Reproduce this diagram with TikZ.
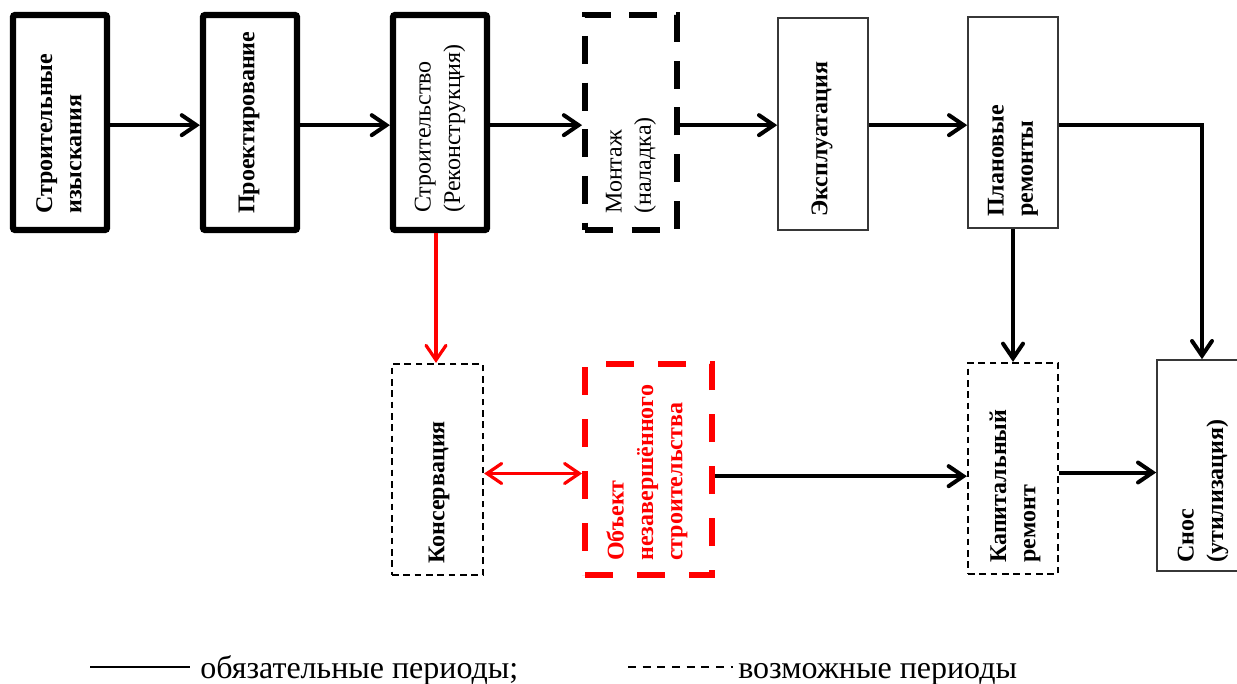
\documentclass[tikz,border=0pt]{standalone}
\usepackage{fontspec}
\setmainfont{Liberation Serif}
\usetikzlibrary{arrows.meta,fit}
\definecolor{myred}{RGB}{255,0,0}
\definecolor{thin}{RGB}{55,55,55}
\begin{document}
\begin{tikzpicture}[x=0.75pt,y=-0.75pt,
  thickbox/.style={draw=black,line width=4.6pt,rounded corners=1.5pt,inner sep=0pt},
  thickdash/.style={draw=black,line width=4.4pt,dash pattern=on 21pt off 14pt,inner sep=0pt},
  thinbox/.style={draw=thin,line width=1.2pt,inner sep=0pt},
  thindash/.style={draw=black,line width=1.7pt,dash pattern=on 5pt off 3.5pt,inner sep=0pt},
  reddash/.style={draw=myred,line width=4.4pt,dash pattern=on 21pt off 18pt,inner sep=0pt},
  lbl/.style={rotate=90,anchor=west,align=left,inner sep=0pt,font=\fontsize{18}{22}\selectfont\bfseries},
  lblr/.style={lbl,font=\fontsize{18}{22}\selectfont},
  barb/.tip={Straight Barb[length=11pt,width=15pt,line cap=round]},
  arr/.style={line width=3pt,-barb},
  rarr/.style={draw=myred,line width=2.4pt,-barb},
  rdarr/.style={draw=myred,line width=2.4pt,barb-barb},
  legtext/.style={anchor=base west,inner sep=0pt,font=\fontsize{24}{28}\selectfont}
]
\clip (0,0) rectangle (1237,684);
\fill[white] (0,0) rectangle (1237,684);

% top row
\node[thickbox,fit={(13,15)(107,230)}] (izy) {};
\node[thickbox,fit={(203,15)(297,230)}] (pro) {};
\node[thickbox,fit={(393,15)(487,230)}] (str) {};
\node[thickdash,fit={(585,15)(677,230)}] (mon) {};
\node[thinbox,fit={(778,18)(868,230)}] (eks) {};
\node[thinbox,fit={(968,17)(1058,228)}] (pla) {};

% bottom row
\node[thindash,fit={(392,364)(483,575)}] (kon) {};
\node[reddash,fit={(585,364)(712,575)}] (obj) {};
\node[thindash,fit={(968,363)(1058,574)}] (kap) {};
\node[thinbox,fit={(1157,360)(1247,571)}] (sno) {};

% labels
\node[lbl] (t1) at (59,214) {Строительные\\изыскания};
\node[lbl] (t2) at (249,214) {Проектирование};
\node[lblr] (t3) at (440,213) {Строительство\\(Реконструкция)};
\node[lblr] (t4) at (631,214) {Монтаж\\(наладка)};
\node[lbl] (t5) at (822,217) {Эксплуатация};
\node[lbl] (t6) at (1013,217) {Плановые\\ремонты};
\node[lbl] (t7) at (439,564) {Консервация};
\node[lbl,text=myred] (t8) at (647,561) {Объект\\незавершённого\\строительства};
\node[lbl] (t9) at (1015,563) {Капитальный\\ремонт};
\node[lbl] (t10) at (1203,563) {Снос\\(утилизация)};

% connectors
\draw[arr] ([yshift=-2pt]izy.east) -- ([yshift=-2pt]izy.east -| pro.west);
\draw[arr] ([yshift=-2pt]pro.east) -- ([yshift=-2pt]pro.east -| str.west);
\draw[arr] ([yshift=-2pt]str.east) -- ([yshift=-2pt]str.east -| mon.west);
\draw[arr] ([yshift=-2pt]mon.east) -- ([yshift=-2pt]mon.east -| eks.west);
\draw[arr] ([yshift=-2pt]eks.east |- izy.east) -- ([yshift=-2pt]izy.east -| pla.west);
\draw[arr] ([yshift=-2pt]pla.east |- izy.east) -| (sno.north);
\draw[arr] (pla.south) -- (pla.south |- kap.north);
\draw[rarr] ([xshift=-3pt]str.south) -- ([xshift=-3pt]str.south |- kon.north);
\draw[rdarr] ([yshift=-3pt]kon.east) -- ([yshift=-3pt]kon.east -| obj.west);
\draw[arr] ([yshift=-5pt]obj.east) -- ([yshift=-5pt]obj.east -| kap.west);
\draw[arr] ([yshift=-3pt]kap.east) -- ([yshift=-3pt]kap.east -| sno.west);

% legend
\coordinate (l1a) at (90,667);
\coordinate (l1b) at (190,667);
\coordinate (l2a) at (628,667);
\coordinate (l2b) at (733,667);
\draw[line width=1.7pt] (l1a) -- (l1b);
\draw[line width=1.7pt,dash pattern=on 6pt off 5pt] (l2a) -- (l2b);
\node[legtext] (leg1) at (200,678) {обязательные периоды;};
\node[legtext] (leg2) at (738,678) {возможные периоды};
\end{tikzpicture}
\end{document}
